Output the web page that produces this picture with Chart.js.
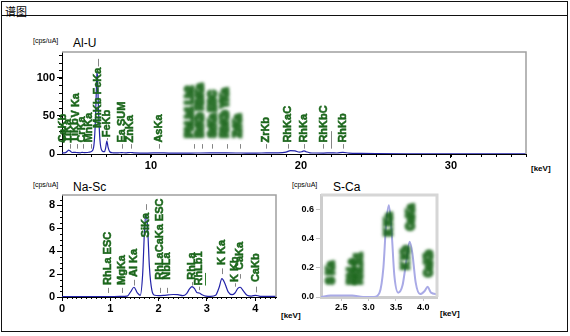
<!DOCTYPE html>
<html><head><meta charset="utf-8">
<script src="https://cdn.jsdelivr.net/npm/chart.js@4.4.1/dist/chart.umd.min.js"></script>
<style>
html,body{margin:0;padding:0;background:#fff}
body{width:570px;height:336px;position:relative;overflow:hidden}
.abs{position:absolute;white-space:nowrap;line-height:1}
#frame{position:absolute;left:1px;top:1px;width:567px;height:331px;border:1.5px solid #111;box-sizing:border-box}
#hdrline{position:absolute;left:1px;top:15px;width:567px;height:0;border-top:1.5px solid #111}
#hdr{left:5px;top:3px;font:11px 'Noto Sans CJK SC',sans-serif;color:#000}
.unit{font:7px 'Liberation Sans',Arial,sans-serif;color:#000}
.ttl{font:12px 'Liberation Sans',Arial,sans-serif;color:#000}
.kev{font:bold 8px 'Liberation Sans Narrow','Liberation Sans',sans-serif;color:#000}
canvas{position:absolute}
</style></head>
<body>
<div id="frame"></div><div id="hdrline"></div>
<div class="abs" id="hdr">谱图</div>
<div class="abs unit" style="left:33px;top:37px">[cps/uA]</div>
<div class="abs ttl" style="left:73px;top:36px">Al-U</div>
<div class="abs kev" style="left:531px;top:164px">[keV]</div>
<div class="abs unit" style="left:33px;top:181px">[cps/uA]</div>
<div class="abs ttl" style="left:73px;top:180px">Na-Sc</div>
<div class="abs kev" style="left:281px;top:311px">[keV]</div>
<div class="abs unit" style="left:292px;top:181px">[cps/uA]</div>
<div class="abs ttl" style="left:333px;top:180px">S-Ca</div>
<div class="abs kev" style="left:440px;top:309px">[keV]</div>
<canvas id="c1" width="570" height="160" style="left:0;top:20px"></canvas>
<canvas id="c2" width="300" height="140" style="left:0;top:180px"></canvas>
<canvas id="c3" width="170" height="140" style="left:290px;top:180px"></canvas>
<script>
// ---------- Al-U spectrum ----------
const topEnergy = [4.05,4.3,4.42,4.51,4.6,4.75,4.95,5.1,5.3,5.41,5.55,5.75,5.9,6.05,6.2,6.3,6.36,6.4,6.44,6.5,6.6,6.75,6.9,6.98,7.06,7.14,7.25,7.45,7.8,8.05,8.3,8.63,8.9,9.3,9.8,10.53,11.2,12,13,14,15,16,17,17.7,18.5,19.0,19.3,19.6,19.9,20.05,20.2,20.35,20.6,21.0,21.5,22.0,22.4,22.8,23.2,24,25,27,29,31,33,35];
const topCounts = [1.5,1.8,3.5,5.0,4.2,2.0,2.2,1.8,1.6,2.2,1.8,2.0,2.5,3.5,12,45,85,108,100,60,18,4,3,8,17,9,3,1.6,1.5,1.8,1.5,2.0,1.4,1.2,1.2,1.5,1.2,1.2,1.3,1.4,1.4,1.3,1.2,1.4,1.5,2.5,4.5,4.0,2.5,3.0,4.0,3.0,1.6,1.3,1.2,1.6,1.3,2.2,1.2,0.8,0.5,0.3,0.3,0.2,0.2,0.2];
const topXTicks = [10,20,30];
const topYTicks = [0,50,100];
const topLabelText = ['CaKb','TiKa','TiKb','V Ka','CrKa','MnKa','MnKb FeKa','FeKb','Ea SUM','ZnKa','AsKa','PbLb1 Lb2','BrKb RbKa','SrKa ESC','RbKb YKa','ZrKa','ZrKb','RhKaC','RhKa','RhKbC','RhKb'];
const topLabelE = [4.12,4.5,4.95,5.0,5.41,5.9,6.45,7.06,8.07,8.63,10.53,12.61,13.3,14.16,14.96,15.8,17.67,19.15,20.2,21.5,22.8];
const topLabelBase = [15,15,15,48,15,15,34,22,15,15,15,22,22,22,22,22,15,15,15,15,15];
const topMarkE = [4.6,5.05,5.45,6.0,6.45,7.1,8.1,8.7,10.53,12.9,13.4,14.07,15.07,15.93,17.7,19.15,20.2,21.5,22.0,22.8];
const topMarkLo = [7,7,7,7,115,18,7,7,7,7,7,7,7,7,7,7,7,7,7,7];
const topMarkHi = [13,13,13,13,125,21,13,13,13,13,13,13,13,13,13,13,13,13,30,13];

// ---------- Na-Sc spectrum ----------
const naEnergy = [0,0.3,0.6,0.9,1.2,1.35,1.42,1.49,1.56,1.62,1.67,1.71,1.74,1.77,1.81,1.86,1.92,2.0,2.1,2.2,2.3,2.4,2.5,2.58,2.64,2.69,2.74,2.79,2.84,2.9,2.98,3.08,3.18,3.25,3.31,3.37,3.44,3.52,3.58,3.64,3.69,3.75,3.83,3.92,4.01,4.1,4.2,4.43];
const naCounts = [0.03,0.03,0.04,0.04,0.05,0.08,0.45,0.85,0.35,0.15,2.0,6.0,7.2,6.2,2.6,0.6,0.15,0.12,0.14,0.18,0.22,0.2,0.12,0.3,0.7,0.9,0.75,0.4,0.35,0.2,0.08,0.06,0.15,0.8,1.6,1.2,0.45,0.2,0.35,0.75,0.85,0.55,0.15,0.08,0.15,0.06,0.05,0.05];
const naXTicks = [0,1,2,3,4];
const naYTicks = [0,2,4,6,8];
const naLabelText = ['RhLa ESC','MgKa','Al Ka','SiKa','RhLaCaKa ESC','NbLa','RhLa','RhLb1','K Ka','K Kb','CaKa','CaKb'];
const naLabelE = [0.95,1.25,1.49,1.74,2.02,2.17,2.70,2.83,3.31,3.59,3.69,4.01];
const naLabelBase = [1.05,1.05,1.75,5.2,1.5,1.5,1.5,1.0,2.8,1.3,2.35,1.3];
const naMarkE = [0.95,1.25,1.49,1.74,2.02,2.17,2.70,2.83,3.31,3.59,3.69,4.01];
const naMarkLo = [0.35,0.35,1.0,7.6,0.35,0.35,1.0,0.6,2.0,0.9,1.6,0.4];
const naMarkHi = [0.8,0.8,1.5,8.1,0.8,0.8,1.3,0.9,2.5,1.2,2.0,0.9];
const naGreenE = [2.96];
const naGreenLo = [1.0];
const naGreenHi = [2.1];

// ---------- S-Ca spectrum ----------
const sEnergy = [2.13,2.3,2.5,2.7,2.9,3.1,3.2,3.27,3.32,3.37,3.42,3.47,3.54,3.62,3.69,3.75,3.8,3.86,3.94,4.02,4.08,4.14,4.25];
const sCounts = [0,0.01,0.01,0.01,0,0,0.03,0.2,0.5,0.63,0.45,0.15,0.03,0.08,0.25,0.38,0.3,0.1,0.02,0.04,0.07,0.03,0.02];
const sXTicks = [2.5,3.0,3.5,4.0];
const sYTicks = [0,0.2,0.4,0.6];
const sLabelText = ['S Ka','RhLa','RhLb1','K Ka','K Kb','CaKa','CaKb'];
const sLabelE = [2.31,2.70,2.83,3.38,3.69,3.78,4.11];
const sLabelBase = [0.09,0.09,0.09,0.42,0.19,0.46,0.14];

const NARROW = "'Liberation Sans Narrow','Arial Narrow','Liberation Sans',sans-serif";

function makeDeco(o){
  return {id:'deco', afterDatasetsDraw(chart){
    const ctx=chart.ctx, a=chart.chartArea, xs=chart.scales.x, ys=chart.scales.y;
    ctx.save();
    ctx.strokeStyle=o.boxColor; ctx.lineWidth=o.boxWidth;
    ctx.beginPath(); ctx.moveTo(a.left,a.top); ctx.lineTo(a.right,a.top); ctx.lineTo(a.right,a.bottom); ctx.stroke();
    ctx.strokeStyle=o.tickColor; ctx.lineWidth=1; ctx.beginPath();
    if(o.minorX){const n0=Math.ceil(xs.min/o.minorX-1e-6), n1=Math.floor(xs.max/o.minorX+1e-6);
      for(let k=n0;k<=n1;k++){const px=Math.round(xs.getPixelForValue(k*o.minorX))+0.5; ctx.moveTo(px,a.bottom); ctx.lineTo(px,a.bottom+o.minorLen);}}
    if(o.minorY){const n0=Math.ceil(ys.min/o.minorY-1e-6), n1=Math.floor(ys.max/o.minorY+1e-6);
      for(let k=n0;k<=n1;k++){const py=Math.round(ys.getPixelForValue(k*o.minorY))+0.5; ctx.moveTo(a.left,py); ctx.lineTo(a.left-o.minorLen,py);}}
    ctx.stroke();
    ctx.strokeStyle='#858585'; ctx.lineWidth=1; ctx.beginPath();
    (o.markE||[]).forEach((e,i)=>{const px=Math.round(xs.getPixelForValue(e))+0.5; ctx.moveTo(px,ys.getPixelForValue(o.markLo[i])); ctx.lineTo(px,ys.getPixelForValue(o.markHi[i]));});
    ctx.stroke();
    ctx.strokeStyle='#2f7f2f'; ctx.beginPath();
    (o.gE||[]).forEach((e,i)=>{const px=Math.round(xs.getPixelForValue(e))+0.5; ctx.moveTo(px,ys.getPixelForValue(o.gLo[i])); ctx.lineTo(px,ys.getPixelForValue(o.gHi[i]));});
    ctx.stroke();
    ctx.fillStyle='#1b661b'; ctx.strokeStyle='#1b661b'; ctx.textBaseline='middle'; ctx.textAlign='left';
    o.labT.forEach((t,i)=>{const e=o.labE[i]; const bl=o.blur(e);
      ctx.save();
      ctx.translate(xs.getPixelForValue(e), ys.getPixelForValue(o.labB[i])); ctx.rotate(-Math.PI/2);
      if(bl){ctx.font=o.blurFont; ctx.filter='blur(1.4px)'; ctx.globalAlpha=0.85; ctx.lineWidth=2.6; ctx.strokeText(t,0,0); ctx.fillText(t,0,0);}
      else {ctx.font=o.labelFont; ctx.lineWidth=0.5; ctx.strokeText(t,0,0); ctx.fillText(t,0,0);}
      ctx.restore();});
    ctx.restore();
  }};
}

function build(id,o){
  return new Chart(document.getElementById(id),{
    type:'line',
    data:{datasets:[{data:o.E.map((e,i)=>({x:e,y:o.C[i]})),borderColor:o.lineColor,borderWidth:o.lineWidth,pointRadius:0,cubicInterpolationMode:'monotone',fill:false}]},
    options:{responsive:false,animation:false,devicePixelRatio:1,events:[],
      layout:{padding:{left:0,top:o.padT,right:o.padR,bottom:o.padB}},
      plugins:{legend:{display:false},tooltip:{enabled:false}},
      scales:{
        x:{type:'linear',min:o.xMin,max:o.xMax,
          afterBuildTicks:s=>{s.ticks=o.xTicks.map(v=>({value:v}));},
          afterFit:s=>{s.height=o.xH;},
          grid:{drawOnChartArea:false,drawTicks:true,tickLength:4,color:o.tickColor},
          border:{color:o.axisColor,width:o.axisWidth},
          ticks:{autoSkip:false,maxRotation:0,padding:1,color:'#000',font:{family:NARROW,size:o.tickSize,weight:'bold'},callback:v=>Number(v).toFixed(o.xDec)}},
        y:{type:'linear',min:0,max:o.yMax,
          afterBuildTicks:s=>{s.ticks=o.yTicks.map(v=>({value:v}));},
          afterFit:s=>{s.width=o.yW;},
          grid:{drawOnChartArea:false,drawTicks:true,tickLength:5,color:o.tickColor},
          border:{color:o.axisColor,width:o.axisWidth},
          ticks:{autoSkip:false,padding:2,color:'#000',font:{family:NARROW,size:o.tickSize,weight:'bold'},callback:v=>Number(v).toFixed(o.yDec)}}
      }},
    plugins:[makeDeco(o)]
  });
}

build('c1',{E:topEnergy,C:topCounts,xMin:4.07,xMax:35,yMax:134,xTicks:topXTicks,yTicks:topYTicks,xDec:0,yDec:0,
  padT:32,padR:44,padB:6,xH:20,yW:62,lineColor:'#2323a8',lineWidth:1.2,axisColor:'#000',axisWidth:1,tickColor:'#000',tickSize:11,
  boxColor:'#a0a0a0',boxWidth:1.5,minorX:1,minorY:10,minorLen:3,
  markE:topMarkE,markLo:topMarkLo,markHi:topMarkHi,labT:topLabelText,labE:topLabelE,labB:topLabelBase,
  labelFont:'bold 11px '+NARROW,blurFont:'bold 10px '+NARROW,blur:e=>e>12.3&&e<16.3});

build('c2',{E:naEnergy,C:naCounts,xMin:0,xMax:4.43,yMax:8.9,xTicks:naXTicks,yTicks:naYTicks,xDec:0,yDec:0,
  padT:15,padR:24,padB:3,xH:20,yW:62,lineColor:'#2323a8',lineWidth:1.2,axisColor:'#000',axisWidth:1,tickColor:'#000',tickSize:11,
  boxColor:'#a0a0a0',boxWidth:1.5,minorX:0.1,minorY:0.5,minorLen:2,
  markE:naMarkE,markLo:naMarkLo,markHi:naMarkHi,gE:naGreenE,gLo:naGreenLo,gHi:naGreenHi,
  labT:naLabelText,labE:naLabelE,labB:naLabelBase,labelFont:'bold 11px '+NARROW,blurFont:'bold 10px '+NARROW,blur:e=>false});

build('c3',{E:sEnergy,C:sCounts,xMin:2.13,xMax:4.25,yMax:0.7,xTicks:sXTicks,yTicks:sYTicks,xDec:1,yDec:1,
  padT:15,padR:23,padB:3,xH:20,yW:31,lineColor:'#a9aae6',lineWidth:2,axisColor:'#cdcdcd',axisWidth:3,tickColor:'#c4c4c4',tickSize:9,
  boxColor:'#d6d6d6',boxWidth:3,minorX:0,minorY:0,minorLen:0,
  markE:[],markLo:[],markHi:[],labT:sLabelText,labE:sLabelE,labB:sLabelBase,labelFont:'bold 10px '+NARROW,blurFont:'bold 10px '+NARROW,blur:e=>true});
</script>
</body></html>
